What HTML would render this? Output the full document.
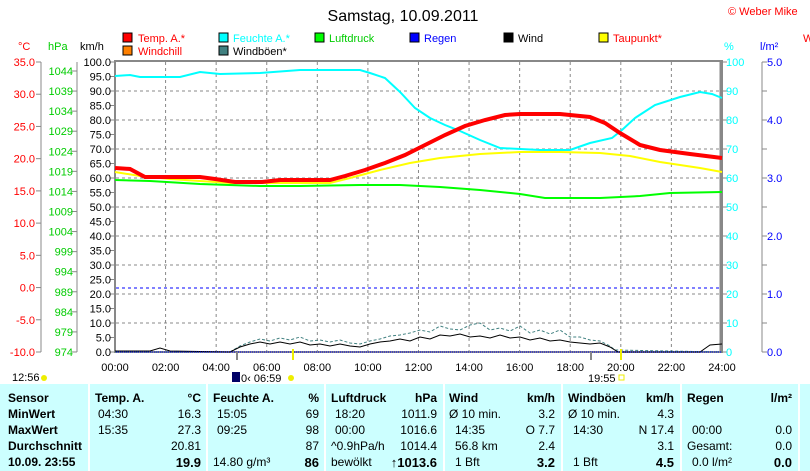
<!DOCTYPE html>
<html><head><meta charset="utf-8"><style>
body{margin:0;width:810px;height:471px;background:#fff;overflow:hidden;font-family:"Liberation Sans",sans-serif}
svg text{font-family:"Liberation Sans",sans-serif}
.tb{position:absolute;left:0;top:384px;width:810px;height:87px;background:#ccffff;font-size:12px}
.c{position:absolute;white-space:nowrap}
.b{font-weight:bold}
.sep{position:absolute;top:0;width:2px;height:87px;background:#fff}
</style></head><body>
<svg width="810" height="384" style="position:absolute;left:0;top:0" font-size="12">
<text x="403" y="21" font-size="16" text-anchor="middle">Samstag, 10.09.2011</text>
<text x="728" y="15" font-size="11" fill="#f00">© Weber Mike</text>
<g font-size="11">
<rect x="123" y="33" width="9" height="9" fill="#f00" stroke="#000"/><text x="138" y="42" fill="#f00">Temp. A.*</text>
<rect x="123" y="46" width="9" height="9" fill="#ff8000" stroke="#000"/><text x="138" y="55" fill="#f00">Windchill</text>
<rect x="219" y="33" width="9" height="9" fill="#0ff" stroke="#000"/><text x="233" y="42" fill="#0ff">Feuchte A.*</text>
<rect x="219" y="46" width="9" height="9" fill="#408080" stroke="#000"/><text x="233" y="55">Windböen*</text>
<rect x="315" y="33" width="9" height="9" fill="#0f0" stroke="#000"/><text x="329" y="42" fill="#0c0">Luftdruck</text>
<rect x="410" y="33" width="9" height="9" fill="#00f" stroke="#000"/><text x="424" y="42" fill="#00f">Regen</text>
<rect x="504" y="33" width="9" height="9" fill="#000" stroke="#000"/><text x="518" y="42">Wind</text>
<rect x="599" y="33" width="9" height="9" fill="#ff0" stroke="#000"/><text x="613" y="42" fill="#f00">Taupunkt*</text>
</g>
<text x="18" y="50" fill="#f00" font-size="11">°C</text>
<text x="48" y="50" fill="#0c0" font-size="11">hPa</text>
<text x="80" y="50" font-size="11">km/h</text>
<text x="724" y="50" fill="#0ff" font-size="11">%</text>
<text x="760" y="50" fill="#00f" font-size="11">l/m²</text>
<text x="803" y="42" fill="#f00" font-size="11">W</text>
<g stroke="#888" stroke-width="1">
<line x1="41" y1="62" x2="41" y2="352"/>
<line x1="77" y1="62" x2="77" y2="352"/>
<line x1="762" y1="62" x2="762" y2="352"/>
</g>
<g id="ticks" stroke="#888"></g>
<g id="labels" font-size="11"></g>
<g stroke="#888" stroke-dasharray="3,3" id="grid"></g>
<line x1="116" y1="288" x2="721" y2="288" stroke="#00f" stroke-dasharray="3,3"/>
<rect x="115" y="61" width="607" height="291" fill="none" stroke="#888" stroke-width="2"/>
<line x1="721" y1="62" x2="721" y2="352" stroke="#888" stroke-width="3"/>
<polyline fill="none" stroke="#0ff" stroke-width="2" points="115,76 130,75 140,77 180,77 200,72 220,74 260,73 300,70 360,70 370,73 385,78 400,92 415,108 430,118 445,125 460,131 480,140 500,148 540,150 570,150 590,143 612,138 622,130 635,118 655,105 680,97 700,92 712,94 722,98"/>
<polyline fill="none" stroke="#0f0" stroke-width="2" points="115,180 150,181 200,184 260,186 300,186 360,185 400,185 440,187 480,190 520,194 545,198 600,198 640,196 670,193 722,192"/>
<polyline fill="none" stroke="#ff0" stroke-width="2" points="115,172 140,176 170,179 200,181 230,183 260,183 330,183 350,178 380,170 410,163 440,158 480,154 520,152 560,152 600,153 630,156 660,162 700,168 722,172"/>
<polyline fill="none" stroke="#f00" stroke-width="4" points="115,168 130,169 145,177 200,177 215,179 235,182 262,182 280,180 330,180 345,176 365,170 385,163 405,155 425,145 445,135 465,126 485,120 505,115 520,114 560,114 590,117 605,123 620,133 640,145 660,150 690,154 722,158"/>
<polyline fill="none" stroke="#408080" stroke-dasharray="3,2" points="115,352 230,352 240,346 250,342 260,339 270,341 280,338 290,340 300,337 310,341 320,340 330,342 340,340 350,343 360,344 370,341 380,339 390,336 400,335 410,333 420,330 430,332 440,326 450,329 460,330 470,325 480,323 490,330 500,328 510,331 520,326 530,333 540,330 550,334 560,330 570,337 580,337 590,340 600,341 610,346 615,350 722,352"/>
<polyline fill="none" stroke="#000" points="115,351 150,351 160,348 170,351 230,352 240,347 250,344 260,342 270,344 280,342 290,344 300,342 310,345 320,344 330,346 340,344 350,346 360,347 370,344 380,342 390,341 400,339 410,341 420,337 430,339 440,335 450,336 460,334 470,337 480,336 490,338 500,335 510,338 520,337 530,340 540,338 550,341 560,340 570,342 580,343 590,344 600,343 610,347 618,352 700,352 710,345 722,344"/>
<line x1="116" y1="352" x2="721" y2="352" stroke="#00f" stroke-dasharray="1,1"/>
<line x1="237" y1="352" x2="237" y2="360" stroke="#888" stroke-width="2"/>
<line x1="293" y1="349" x2="293" y2="360" stroke="#ee0" stroke-width="2"/>
<line x1="591" y1="352" x2="591" y2="360" stroke="#888" stroke-width="2"/>
<line x1="621" y1="349" x2="621" y2="360" stroke="#ee0" stroke-width="2"/>
<g id="xl" font-size="11" text-anchor="middle"></g>
<text x="12" y="381" font-size="11">12:56</text><circle cx="44" cy="378" r="3" fill="#ee0"/>
<rect x="232" y="372" width="8" height="10" fill="#006"/><text x="241" y="382" font-size="11">0‹ 06:59</text><circle cx="291" cy="378" r="3" fill="#ee0"/>
<text x="588" y="382" font-size="11">19:55</text><rect x="619" y="375" width="5" height="5" fill="none" stroke="#ee0"/>
</svg>
<div class="tb">
<div class="sep" style="left:88px"></div><div class="sep" style="left:206px"></div><div class="sep" style="left:324px"></div><div class="sep" style="left:443px"></div><div class="sep" style="left:561px"></div><div class="sep" style="left:680px"></div><div class="sep" style="left:798px"></div>
<div id="cells"></div>
</div>
<script>
const ns="http://www.w3.org/2000/svg";
function t(g,x,y,s,fill,anchor){const e=document.createElementNS(ns,"text");e.setAttribute("x",x);e.setAttribute("y",y);if(fill)e.setAttribute("fill",fill);if(anchor)e.setAttribute("text-anchor",anchor);e.textContent=s;document.getElementById(g).appendChild(e);}
function l(g,x1,y1,x2,y2){const e=document.createElementNS(ns,"line");e.setAttribute("x1",x1);e.setAttribute("y1",y1);e.setAttribute("x2",x2);e.setAttribute("y2",y2);document.getElementById(g).appendChild(e);}
for(let i=0;i<=9;i++){const v=35-5*i,y=62+i*290/9;t("labels",35,y+4,v.toFixed(1),"#f00","end");l("ticks",36,y,41,y);}
for(let i=0;i<=14;i++){const v=1044-5*i,y=71+i*20.07;t("labels",73,y+4,v,"#0c0","end");l("ticks",72,y,77,y);}
for(let i=0;i<=20;i++){const v=100-5*i,y=62+i*14.5;t("labels",111,y+4,v.toFixed(1),"#000","end");l("ticks",110,y,115,y);}
for(let i=0;i<=10;i++){const v=100-10*i,y=62+i*29;t("labels",726,y+4,v,"#0ff");l("ticks",722,y,727,y);}
for(let i=0;i<=10;i++){const v=5-0.5*i,y=62+i*29;if(i%2==0)t("labels",767,y+4,v.toFixed(1),"#00f");l("ticks",762,y,767,y);}
for(let i=1;i<=9;i++){const y=62+i*29;l("grid",116,y,720,y);}
for(let i=1;i<=11;i++){const x=115+i*50.58;l("grid",x,62,x,352);}
for(let i=0;i<=12;i++){const x=115+i*50.58;t("xl",x,371,(String(i*2).padStart(2,"0"))+":00");}
const rows=[399,415,431,447,463];
const cells=[
[8,0,"Sensor",1],[8,1,"MinWert",1],[8,2,"MaxWert",1],[8,3,"Durchschnitt",1],[8,4,"10.09. 23:55",1],
[95,0,"Temp. A.",1],[-201,0,"°C",1],[98,1,"04:30"],[-201,1,"16.3"],[98,2,"15:35"],[-201,2,"27.3"],[-201,3,"20.81"],[-201,4,"19.9",1],
[213,0,"Feuchte A.",1],[-319,0,"%",1],[217,1,"15:05"],[-319,1,"69"],[217,2,"09:25"],[-319,2,"98"],[-319,3,"87"],[213,4,"14.80 g/m³"],[-319,4,"86",1],
[331,0,"Luftdruck",1],[-437,0,"hPa",1],[335,1,"18:20"],[-437,1,"1011.9"],[335,2,"00:00"],[-437,2,"1016.6"],[331,3,"^0.9hPa/h"],[-437,3,"1014.4"],[331,4,"bewölkt"],[-437,4,"↑1013.6",1],
[449,0,"Wind",1],[-555,0,"km/h",1],[449,1,"Ø 10 min."],[-555,1,"3.2"],[455,2,"14:35"],[-555,2,"O 7.7"],[455,3,"56.8 km"],[-555,3,"2.4"],[455,4,"1 Bft"],[-555,4,"3.2",1],
[568,0,"Windböen",1],[-674,0,"km/h",1],[568,1,"Ø 10 min."],[-674,1,"4.3"],[573,2,"14:30"],[-674,2,"N 17.4"],[-674,3,"3.1"],[573,4,"1 Bft"],[-674,4,"4.5",1],
[687,0,"Regen",1],[-792,0,"l/m²",1],[692,2,"00:00"],[-792,2,"0.0"],[687,3,"Gesamt:"],[-792,3,"0.0"],[692,4,"0.0 l/m²"],[-792,4,"0.0",1]];
let h="";
for(const [x,r,s,b] of cells){const top=rows[r]-384-8;const big=(r==4&&b&&x<0)?"font-size:13px;":"";
h+=`<div class="c${b?' b':''}" style="${x<0?'right:'+(810+x)+'px':'left:'+x+'px'};top:${top}px;${big}">${s}</div>`;}
document.getElementById("cells").innerHTML=h;
</script>
</body></html>
